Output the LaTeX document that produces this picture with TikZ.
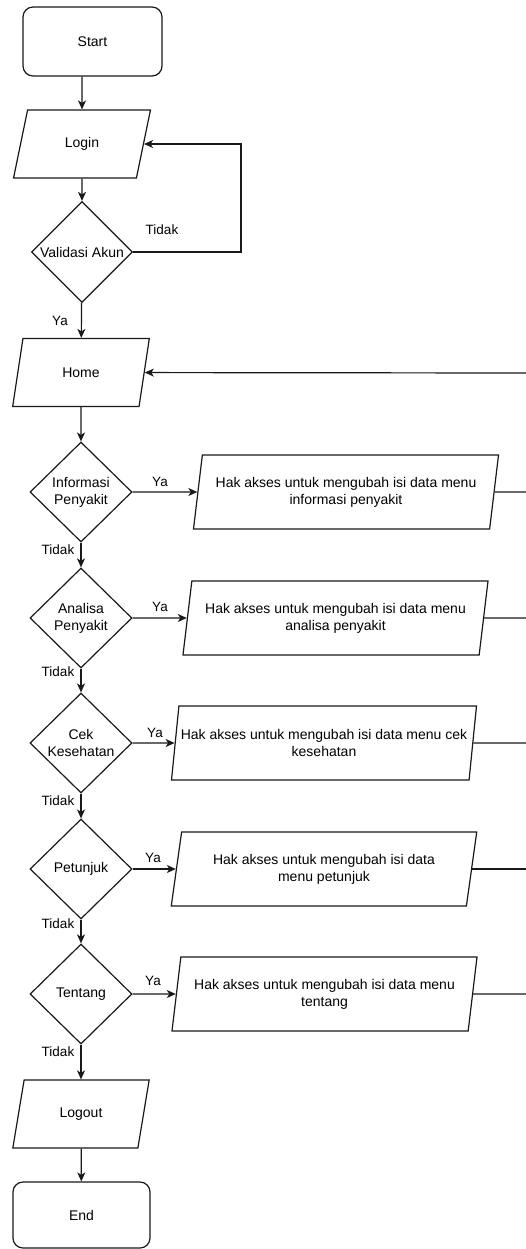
\documentclass[tikz,border=0pt]{standalone}
\usepackage{fontspec}
\setmainfont{Liberation Sans}
\usetikzlibrary{shapes.geometric,arrows.meta}
\begin{document}
\begin{tikzpicture}[x=1pt,y=-1pt,
  every node/.style={font=\fontsize{14}{17}\selectfont, align=center, inner sep=0pt},
  line/.style={draw=black!90, line width=1.2pt},
  arr/.style={line, -{Stealth[length=9pt,width=8pt,inset=2.5pt]}},
  term/.style={draw=black!90, line width=1.2pt, rounded corners=10pt},
  io/.style={draw=black!90, line width=1.2pt, trapezium, trapezium stretches=true,
    trapezium left angle=71.3, trapezium right angle=108.7,
    minimum width=137pt, minimum height=68pt},
  msg/.style={draw=black!90, line width=1.2pt, trapezium, trapezium stretches=true,
    trapezium left angle=75, trapezium right angle=105,
    minimum width=306pt, minimum height=74pt},
  dec/.style={draw=black!90, line width=1.2pt, diamond, aspect=1,
    minimum width=102pt, minimum height=100pt},
  lab/.style={font=\fontsize{13.5}{16}\selectfont}
]
\useasboundingbox (0,0) rectangle (526,1249);

% main column
\node[term, minimum width=139pt, minimum height=69pt] (start) at (92.5,41.5) {Start};
\node[io] (login) at (82,144) {Login};
\node[dec, minimum width=101pt, minimum height=101pt] (val) at (82,252) {Validasi Akun};
\node[io] (home) at (81,372.5) {Home};
\node[dec] (d1) at (81,492) {Informasi\\Penyakit};
\node[dec] (d2) at (81,618) {Analisa\\Penyakit};
\node[dec] (d3) at (81,743) {Cek\\Kesehatan};
\node[dec] (d4) at (81,869) {Petunjuk};
\node[dec] (d5) at (81,994) {Tentang};
\node[io] (logout) at (81,1114) {Logout};
\node[term, minimum width=137pt, minimum height=66pt] (end) at (81.5,1215) {End};

% access boxes
\node[msg] (b1) at (346,492) {Hak akses untuk mengubah isi data menu\\informasi penyakit};
\node[msg] (b2) at (335.5,618) {Hak akses untuk mengubah isi data menu\\analisa penyakit};
\node[msg] (b3) at (324,743) {Hak akses untuk mengubah isi data menu cek\\kesehatan};
\node[msg] (b4) at (324,869) {Hak akses untuk mengubah isi data\\menu petunjuk};
\node[msg] (b5) at (324.5,994) {Hak akses untuk mengubah isi data menu\\tentang};

% return line ends on the right
\coordinate (r0) at (526,373);
\coordinate (r1) at (526,492);
\coordinate (r2) at (526,618);
\coordinate (r3) at (526,743);
\coordinate (r4) at (526,869);
\coordinate (r5) at (526,994);
\coordinate (loop) at (241,252);

% flow
\draw[arr] (start.south -| login.north) -- (login);
\draw[arr] (login) -- (val);
\draw[arr] (val.east) -- (loop) |- (login);
\draw[arr] (val) -- (home);
\draw[arr] (home) -- (d1);
\draw[arr] (d1) -- (d2);
\draw[arr] (d2) -- (d3);
\draw[arr] (d3) -- (d4);
\draw[arr] (d4) -- (d5);
\draw[arr] (d5) -- (logout);
\draw[arr] (logout) -- (end);
\draw[arr] (r0) -- (home);

\foreach \i in {1,...,5} {
  \draw[arr] (d\i) -- (b\i);
  \draw[line] (b\i) -- (r\i);
}

% labels
\node[lab] (t0) at (162,230) {Tidak};
\node[lab] (y0) at (60,321) {Ya};
\node[lab] (y1) at (160,482) {Ya};
\node[lab] (y2) at (160,607) {Ya};
\node[lab] (y3) at (155,733) {Ya};
\node[lab] (y4) at (153,858) {Ya};
\node[lab] (y5) at (153,981) {Ya};
\node[lab] (t1) at (58,550) {Tidak};
\node[lab] (t2) at (58,672) {Tidak};
\node[lab] (t3) at (58,801) {Tidak};
\node[lab] (t4) at (58,924) {Tidak};
\node[lab] (t5) at (58,1052) {Tidak};
\end{tikzpicture}
\end{document}
